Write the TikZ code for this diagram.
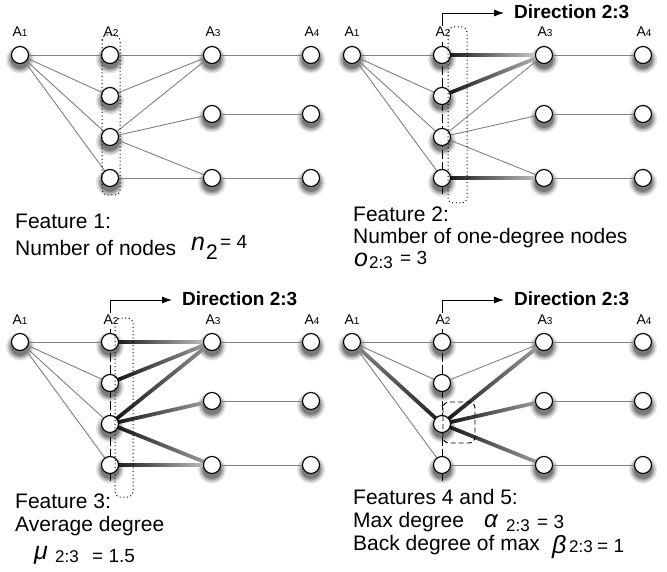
\documentclass[tikz,border=0pt]{standalone}
\usepackage{fontspec}
\setmainfont{Liberation Sans}
\usetikzlibrary{calc,arrows.meta}
\pgfdeclarelayer{shadowlayer}
\pgfdeclarelayer{edgelayer}
\pgfsetlayers{shadowlayer,edgelayer,main}
\tikzset{
  gn/.style={circle, draw=black, line width=1.1pt, fill=white, minimum size=17pt, inner sep=0pt},
  thinedge/.style={draw=black!50, line width=0.9pt},
  lab/.style={font=\fontsize{14}{14}\selectfont, inner sep=0pt, anchor=base},
  dotbox/.style={draw=black, line width=1pt, dash pattern=on 1pt off 2.6pt, rounded corners=5pt},
  dashbox/.style={draw=black, line width=0.9pt, dash pattern=on 5pt off 3pt, rounded corners=6pt},
  vdash/.style={draw=black, line width=0.9pt, dash pattern=on 9pt off 3pt},
  dirline/.style={draw=black, line width=0.9pt, -{Latex[length=10pt,width=7pt]}},
  dirtext/.style={font=\fontsize{19}{19}\selectfont\bfseries, inner sep=0pt, anchor=west},
  txt/.style={font=\fontsize{21}{24}\selectfont, inner sep=0pt, anchor=base west},
  bigvar/.style={font=\fontsize{25}{25}\selectfont\itshape, inner sep=0pt, anchor=base west},
  subtxt/.style={font=\fontsize{17}{17}\selectfont, inner sep=0pt, anchor=base west},
  eqtxt/.style={font=\fontsize{19}{19}\selectfont, inner sep=0pt, anchor=base west},
  shcirc/.style={fill=black, draw=none},
}
\newcommand\lsub[1]{{\fontsize{10}{10}\selectfont #1}}
\newcommand\gnode[2]{%
  \begin{pgfonlayer}{shadowlayer}
  \fill[shcirc, opacity=0.10] ($#2+(0,4.5)$) circle (14pt);
  \fill[shcirc, opacity=0.14] ($#2+(0,4.5)$) circle (12.5pt);
  \fill[shcirc, opacity=0.18] ($#2+(0,4.5)$) circle (11pt);
  \fill[shcirc, opacity=0.24] ($#2+(0,4.5)$) circle (9.5pt);
  \end{pgfonlayer}
  \node[gn] (#1) at #2 {};}
\newcommand\gedge[4]{%
  \shade[left color=#3, right color=#4] ($(#1)!1.9pt!90:(#2)$) -- ($(#2)!1.9pt!-90:(#1)$) -- ($(#2)!1.9pt!90:(#1)$) -- ($(#1)!1.9pt!-90:(#2)$) -- cycle;}
\newcommand\panelnodes[1]{%
  \gnode{#1a}{(0,0)}
  \gnode{#1b1}{(90,0)}\gnode{#1b2}{(90,41)}\gnode{#1b3}{(90,82)}\gnode{#1b4}{(90,123)}
  \gnode{#1c1}{(192,0)}\gnode{#1c2}{(192,59)}\gnode{#1c3}{(192,123)}
  \gnode{#1d1}{(291,0)}\gnode{#1d2}{(291,59)}\gnode{#1d3}{(291,123)}
  \node[lab] (#1la) at (0,-18) {A\lsub{1}};
  \node[lab] (#1lb) at (91,-18) {A\lsub{2}};
  \node[lab] (#1lc) at (193,-18) {A\lsub{3}};
  \node[lab] (#1ld) at (292,-18) {A\lsub{4}};
  \begin{pgfonlayer}{edgelayer}
  \foreach \u/\v in {c1/d1, c2/d2, c3/d3} \draw[thinedge] (#1\u) -- (#1\v);
  \end{pgfonlayer}}
\newcommand\direction[1]{%
  \coordinate (#1vt) at (90,-29); \coordinate (#1cor) at (90,-42); \coordinate (#1tip) at (152,-42);
  \draw[dirline] (#1vt) -- (#1cor) -- (#1tip);
  \node[dirtext] (#1dt) at (162,-43) {Direction 2:3};
  \coordinate (#1vs) at (90,-13); \coordinate (#1ve) at (90,139);
  \begin{pgfonlayer}{edgelayer}\draw[vdash] (#1vs) -- (#1ve);\end{pgfonlayer}}
\begin{document}
\begin{tikzpicture}[x=1pt,y=-1pt]
\useasboundingbox (0,0) rectangle (667,572);
% ---------------- Panel 1
\begin{scope}[shift={(20,55)}]
\panelnodes{p}
\begin{pgfonlayer}{edgelayer}
\foreach \u/\v in {a/b1, a/b2, a/b3, a/b4, b1/c1, b2/c1, b3/c1, b3/c2, b3/c3, b4/c3} \draw[thinedge] (p\u) -- (p\v);
\end{pgfonlayer}
\draw[dotbox] (82,-20) rectangle (100,140);
\end{scope}
% ---------------- Panel 2
\begin{scope}[shift={(352,55)}]
\panelnodes{q}
\direction{q}
\begin{pgfonlayer}{edgelayer}
\foreach \u/\v in {a/b1, a/b2, a/b3, a/b4, b3/c1, b3/c2, b3/c3} \draw[thinedge] (q\u) -- (q\v);
\gedge{qb1}{qc1}{black!95}{black!15}
\gedge{qb2}{qc1}{black!95}{black!25}
\gedge{qb4}{qc3}{black!95}{black!20}
\end{pgfonlayer}
\draw[dotbox] (96,-28) rectangle (115,148);
\end{scope}
% ---------------- Panel 3
\begin{scope}[shift={(20,342)}]
\panelnodes{r}
\direction{r}
\begin{pgfonlayer}{edgelayer}
\foreach \u/\v in {a/b1, a/b2, a/b3, a/b4} \draw[thinedge] (r\u) -- (r\v);
\gedge{rb1}{rc1}{black!95}{black!20}
\gedge{rb2}{rc1}{black!95}{black!35}
\gedge{rb3}{rc1}{black!95}{black!40}
\gedge{rb3}{rc2}{black!95}{black!35}
\gedge{rb3}{rc3}{black!95}{black!35}
\gedge{rb4}{rc3}{black!95}{black!20}
\end{pgfonlayer}
\draw[dotbox] (95,-24) rectangle (113,155);
\end{scope}
% ---------------- Panel 4
\begin{scope}[shift={(352,342)}]
\panelnodes{s}
\direction{s}
\begin{pgfonlayer}{edgelayer}
\foreach \u/\v in {a/b1, a/b2, a/b4, b1/c1, b2/c1, b4/c3} \draw[thinedge] (s\u) -- (s\v);
\gedge{sa}{sb3}{black!45}{black!90}
\gedge{sb3}{sc1}{black!95}{black!35}
\gedge{sb3}{sc2}{black!95}{black!35}
\gedge{sb3}{sc3}{black!95}{black!35}
\end{pgfonlayer}
\draw[dashbox] (91,60) rectangle (123,101);
\end{scope}
% ---------------- Texts
\node[txt] (t1a) at (15,229) {Feature 1:};
\node[txt] (t1b) at (15,256) {Number of nodes};
\node[bigvar] (t1n) at (191,251) {n};
\node[eqtxt] (t1s) at (206,260) {\fontsize{21}{21}\selectfont 2};
\node[eqtxt] (t1e) at (220,249) {= 4};
\node[txt] (t2a) at (353,222) {Feature 2:};
\node[txt] (t2b) at (353,244) {Number of one-degree nodes};
\node[bigvar] (t2o) at (354,266) {o};
\node[subtxt] (t2s) at (369,269) {2:3};
\node[eqtxt] (t2e) at (400,265) {= 3};
\node[txt] (t3a) at (15,508) {Feature 3:};
\node[txt] (t3b) at (15,531) {Average degree};
\node[bigvar] (t3m) at (34,559) {μ};
\node[subtxt] (t3s) at (55,562) {2:3};
\node[eqtxt] (t3e) at (92,562) {= 1.5};
\node[txt] (t4a) at (353,504) {Features 4 and 5:};
\node[txt] (t4b) at (353,527) {Max degree};
\node[bigvar, font=\fontsize{24}{24}\selectfont\itshape] (t4al) at (484,527) {α};
\node[subtxt] (t4s) at (506,531) {2:3};
\node[eqtxt] (t4e) at (537,528) {= 3};
\node[txt] (t4c) at (353,550) {Back degree of max};
\node[bigvar] (t4be) at (552,553) {β};
\node[subtxt] (t4bs) at (569,552) {2:3};
\node[eqtxt] (t4be2) at (597,552) {= 1};
\end{tikzpicture}
\end{document}
